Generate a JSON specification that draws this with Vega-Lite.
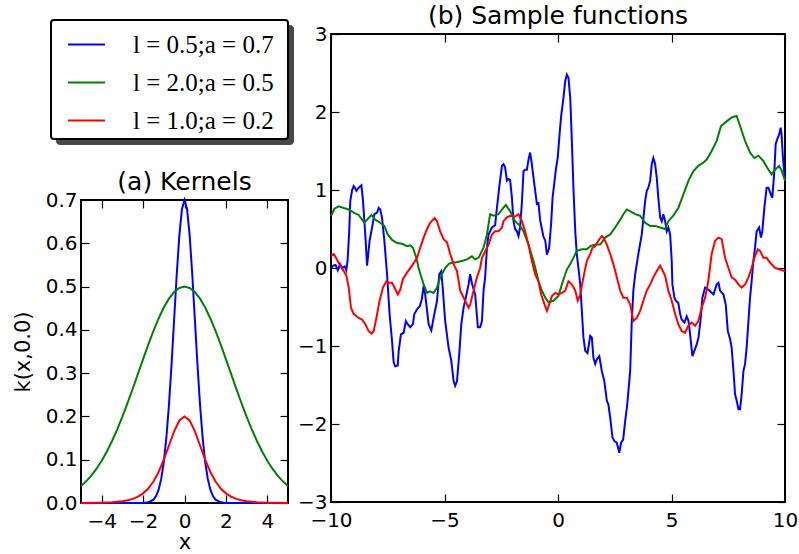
{
  "$schema": "https://vega.github.io/schema/vega-lite/v6.json",
  "padding": {"left": 11, "top": 3, "right": 1, "bottom": 5},
  "background": "white",
  "datasets": {
    "series": [
      {"k": "b", "label": "l = 0.5;a = 0.7"},
      {"k": "g", "label": "l = 2.0;a = 0.5"},
      {"k": "r", "label": "l = 1.0;a = 0.2"}
    ],
    "kernels": [
      {"k":"b","x":-5,"y":0},{"k":"b","x":-4,"y":0},{"k":"b","x":-3,"y":0},{"k":"b","x":-2.5,"y":0},{"k":"b","x":-2,"y":0.0002},{"k":"b","x":-1.75,"y":0.0015},{"k":"b","x":-1.5,"y":0.0078},{"k":"b","x":-1.375,"y":0.016},{"k":"b","x":-1.25,"y":0.0307},{"k":"b","x":-1.125,"y":0.0557},{"k":"b","x":-1,"y":0.0947},{"k":"b","x":-0.875,"y":0.1514},{"k":"b","x":-0.75,"y":0.2273},{"k":"b","x":-0.625,"y":0.3205},{"k":"b","x":-0.5,"y":0.4246},{"k":"b","x":-0.375,"y":0.5284},{"k":"b","x":-0.25,"y":0.6178},{"k":"b","x":-0.125,"y":0.6785},{"k":"b","x":0,"y":0.7},{"k":"b","x":0.125,"y":0.6785},{"k":"b","x":0.25,"y":0.6178},{"k":"b","x":0.375,"y":0.5284},{"k":"b","x":0.5,"y":0.4246},{"k":"b","x":0.625,"y":0.3205},{"k":"b","x":0.75,"y":0.2273},{"k":"b","x":0.875,"y":0.1514},{"k":"b","x":1,"y":0.0947},{"k":"b","x":1.125,"y":0.0557},{"k":"b","x":1.25,"y":0.0307},{"k":"b","x":1.375,"y":0.016},{"k":"b","x":1.5,"y":0.0078},{"k":"b","x":1.75,"y":0.0015},{"k":"b","x":2,"y":0.0002},{"k":"b","x":2.5,"y":0},{"k":"b","x":3,"y":0},{"k":"b","x":4,"y":0},{"k":"b","x":5,"y":0},
      {"k":"g","x":-5,"y":0.039},{"k":"g","x":-4.75,"y":0.05},{"k":"g","x":-4.5,"y":0.0633},{"k":"g","x":-4.25,"y":0.0792},{"k":"g","x":-4,"y":0.0977},{"k":"g","x":-3.75,"y":0.1191},{"k":"g","x":-3.5,"y":0.1433},{"k":"g","x":-3.25,"y":0.1702},{"k":"g","x":-3,"y":0.1996},{"k":"g","x":-2.75,"y":0.2311},{"k":"g","x":-2.5,"y":0.2642},{"k":"g","x":-2.25,"y":0.2983},{"k":"g","x":-2,"y":0.3325},{"k":"g","x":-1.75,"y":0.3658},{"k":"g","x":-1.5,"y":0.3975},{"k":"g","x":-1.25,"y":0.4263},{"k":"g","x":-1,"y":0.4515},{"k":"g","x":-0.75,"y":0.4721},{"k":"g","x":-0.5,"y":0.4874},{"k":"g","x":-0.25,"y":0.4968},{"k":"g","x":0,"y":0.5},{"k":"g","x":0.25,"y":0.4968},{"k":"g","x":0.5,"y":0.4874},{"k":"g","x":0.75,"y":0.4721},{"k":"g","x":1,"y":0.4515},{"k":"g","x":1.25,"y":0.4263},{"k":"g","x":1.5,"y":0.3975},{"k":"g","x":1.75,"y":0.3658},{"k":"g","x":2,"y":0.3325},{"k":"g","x":2.25,"y":0.2983},{"k":"g","x":2.5,"y":0.2642},{"k":"g","x":2.75,"y":0.2311},{"k":"g","x":3,"y":0.1996},{"k":"g","x":3.25,"y":0.1702},{"k":"g","x":3.5,"y":0.1433},{"k":"g","x":3.75,"y":0.1191},{"k":"g","x":4,"y":0.0977},{"k":"g","x":4.25,"y":0.0792},{"k":"g","x":4.5,"y":0.0633},{"k":"g","x":4.75,"y":0.05},{"k":"g","x":5,"y":0.039},
      {"k":"r","x":-5,"y":0.0001},{"k":"r","x":-4.5,"y":0.0003},{"k":"r","x":-4,"y":0.0007},{"k":"r","x":-3.5,"y":0.0017},{"k":"r","x":-3,"y":0.004},{"k":"r","x":-2.75,"y":0.0062},{"k":"r","x":-2.5,"y":0.0095},{"k":"r","x":-2.25,"y":0.0146},{"k":"r","x":-2,"y":0.0223},{"k":"r","x":-1.75,"y":0.0335},{"k":"r","x":-1.5,"y":0.0496},{"k":"r","x":-1.25,"y":0.0716},{"k":"r","x":-1,"y":0.1},{"k":"r","x":-0.75,"y":0.1329},{"k":"r","x":-0.5,"y":0.1657},{"k":"r","x":-0.25,"y":0.1906},{"k":"r","x":0,"y":0.2},{"k":"r","x":0.25,"y":0.1906},{"k":"r","x":0.5,"y":0.1657},{"k":"r","x":0.75,"y":0.1329},{"k":"r","x":1,"y":0.1},{"k":"r","x":1.25,"y":0.0716},{"k":"r","x":1.5,"y":0.0496},{"k":"r","x":1.75,"y":0.0335},{"k":"r","x":2,"y":0.0223},{"k":"r","x":2.25,"y":0.0146},{"k":"r","x":2.5,"y":0.0095},{"k":"r","x":2.75,"y":0.0062},{"k":"r","x":3,"y":0.004},{"k":"r","x":3.5,"y":0.0017},{"k":"r","x":4,"y":0.0007},{"k":"r","x":4.5,"y":0.0003},{"k":"r","x":5,"y":0.0001}
    ],
    "samples": [
      {"k":"b","x":-10,"y":0},{"k":"b","x":-9.9,"y":0.03},{"k":"b","x":-9.8,"y":0.04},{"k":"b","x":-9.7,"y":-0.03},{"k":"b","x":-9.6,"y":0.05},{"k":"b","x":-9.5,"y":0},{"k":"b","x":-9.4,"y":0.02},{"k":"b","x":-9.33,"y":-0.03},{"k":"b","x":-9.27,"y":0.09},{"k":"b","x":-9.2,"y":0.45},{"k":"b","x":-9.15,"y":0.86},{"k":"b","x":-9.07,"y":1.0},{"k":"b","x":-9.0,"y":1.05},{"k":"b","x":-8.93,"y":1.02},{"k":"b","x":-8.88,"y":0.99},{"k":"b","x":-8.78,"y":1.03},{"k":"b","x":-8.66,"y":1.06},{"k":"b","x":-8.59,"y":0.86},{"k":"b","x":-8.49,"y":0.43},{"k":"b","x":-8.41,"y":0.03},{"k":"b","x":-8.3,"y":0.35},{"k":"b","x":-8.19,"y":0.52},{"k":"b","x":-8.09,"y":0.69},{"k":"b","x":-7.97,"y":0.71},{"k":"b","x":-7.9,"y":0.77},{"k":"b","x":-7.83,"y":0.75},{"k":"b","x":-7.75,"y":0.64},{"k":"b","x":-7.65,"y":0.35},{"k":"b","x":-7.53,"y":-0.08},{"k":"b","x":-7.42,"y":-0.59},{"k":"b","x":-7.31,"y":-0.94},{"k":"b","x":-7.24,"y":-1.21},{"k":"b","x":-7.17,"y":-1.26},{"k":"b","x":-7.06,"y":-1.25},{"k":"b","x":-7.02,"y":-1.07},{"k":"b","x":-6.92,"y":-0.85},{"k":"b","x":-6.8,"y":-0.83},{"k":"b","x":-6.7,"y":-0.68},{"k":"b","x":-6.62,"y":-0.72},{"k":"b","x":-6.51,"y":-0.76},{"k":"b","x":-6.39,"y":-0.72},{"k":"b","x":-6.33,"y":-0.59},{"k":"b","x":-6.21,"y":-0.53},{"k":"b","x":-6.09,"y":-0.49},{"k":"b","x":-6.0,"y":-0.4},{"k":"b","x":-5.92,"y":-0.23},{"k":"b","x":-5.85,"y":-0.34},{"k":"b","x":-5.7,"y":-0.72},{"k":"b","x":-5.58,"y":-0.8},{"k":"b","x":-5.48,"y":-0.64},{"k":"b","x":-5.33,"y":-0.42},{"k":"b","x":-5.23,"y":-0.08},{"k":"b","x":-5.14,"y":-0.04},{"k":"b","x":-5.08,"y":-0.25},{"k":"b","x":-4.97,"y":-0.68},{"k":"b","x":-4.82,"y":-1.02},{"k":"b","x":-4.7,"y":-1.19},{"k":"b","x":-4.6,"y":-1.45},{"k":"b","x":-4.53,"y":-1.51},{"k":"b","x":-4.45,"y":-1.45},{"k":"b","x":-4.35,"y":-1.1},{"k":"b","x":-4.26,"y":-0.72},{"k":"b","x":-4.16,"y":-0.51},{"k":"b","x":-4.06,"y":-0.38},{"k":"b","x":-3.94,"y":-0.21},{"k":"b","x":-3.87,"y":-0.08},{"k":"b","x":-3.79,"y":-0.2},{"k":"b","x":-3.65,"y":-0.34},{"k":"b","x":-3.53,"y":-0.76},{"k":"b","x":-3.43,"y":-0.76},{"k":"b","x":-3.35,"y":-0.68},{"k":"b","x":-3.28,"y":-0.29},{"k":"b","x":-3.21,"y":-0.12},{"k":"b","x":-3.13,"y":0.26},{"k":"b","x":-3.06,"y":0.43},{"k":"b","x":-2.91,"y":0.52},{"k":"b","x":-2.77,"y":0.55},{"k":"b","x":-2.69,"y":0.77},{"k":"b","x":-2.59,"y":1.03},{"k":"b","x":-2.47,"y":1.31},{"k":"b","x":-2.4,"y":1.33},{"k":"b","x":-2.33,"y":1.29},{"k":"b","x":-2.25,"y":1.12},{"k":"b","x":-2.18,"y":1.14},{"k":"b","x":-2.11,"y":1.13},{"k":"b","x":-2.03,"y":0.9},{"k":"b","x":-1.96,"y":0.6},{"k":"b","x":-1.89,"y":0.5},{"k":"b","x":-1.81,"y":0.47},{"k":"b","x":-1.74,"y":0.41},{"k":"b","x":-1.67,"y":0.52},{"k":"b","x":-1.59,"y":0.84},{"k":"b","x":-1.52,"y":1.24},{"k":"b","x":-1.45,"y":1.26},{"k":"b","x":-1.37,"y":1.26},{"k":"b","x":-1.3,"y":1.39},{"k":"b","x":-1.23,"y":1.48},{"k":"b","x":-1.15,"y":1.33},{"k":"b","x":-1.08,"y":1.16},{"k":"b","x":-0.93,"y":0.82},{"k":"b","x":-0.86,"y":0.83},{"k":"b","x":-0.79,"y":0.62},{"k":"b","x":-0.71,"y":0.5},{"k":"b","x":-0.64,"y":0.4},{"k":"b","x":-0.56,"y":0.35},{"k":"b","x":-0.49,"y":0.17},{"k":"b","x":-0.39,"y":0.26},{"k":"b","x":-0.3,"y":0.58},{"k":"b","x":-0.24,"y":0.9},{"k":"b","x":-0.15,"y":1.12},{"k":"b","x":-0.1,"y":1.25},{"k":"b","x":-0.01,"y":1.42},{"k":"b","x":0.07,"y":1.72},{"k":"b","x":0.14,"y":1.95},{"k":"b","x":0.24,"y":2.18},{"k":"b","x":0.32,"y":2.4},{"k":"b","x":0.39,"y":2.48},{"k":"b","x":0.46,"y":2.44},{"k":"b","x":0.54,"y":2.18},{"k":"b","x":0.61,"y":1.63},{"k":"b","x":0.68,"y":1.03},{"k":"b","x":0.76,"y":0.47},{"k":"b","x":0.83,"y":0.17},{"k":"b","x":0.9,"y":0},{"k":"b","x":0.98,"y":-0.21},{"k":"b","x":1.05,"y":-0.55},{"k":"b","x":1.12,"y":-0.89},{"k":"b","x":1.2,"y":-1.06},{"k":"b","x":1.3,"y":-1.09},{"k":"b","x":1.42,"y":-0.87},{"k":"b","x":1.49,"y":-0.89},{"k":"b","x":1.56,"y":-1.15},{"k":"b","x":1.64,"y":-1.23},{"k":"b","x":1.71,"y":-1.17},{"k":"b","x":1.82,"y":-1.13},{"k":"b","x":1.93,"y":-1.32},{"k":"b","x":2.04,"y":-1.45},{"k":"b","x":2.15,"y":-1.7},{"k":"b","x":2.22,"y":-1.75},{"k":"b","x":2.3,"y":-1.92},{"k":"b","x":2.4,"y":-2.17},{"k":"b","x":2.48,"y":-2.22},{"k":"b","x":2.59,"y":-2.24},{"k":"b","x":2.7,"y":-2.37},{"k":"b","x":2.78,"y":-2.24},{"k":"b","x":2.87,"y":-2.2},{"k":"b","x":2.96,"y":-1.96},{"k":"b","x":3.05,"y":-1.75},{"k":"b","x":3.18,"y":-1.32},{"k":"b","x":3.25,"y":-0.68},{"k":"b","x":3.32,"y":-0.29},{"k":"b","x":3.4,"y":-0.08},{"k":"b","x":3.54,"y":0.18},{"k":"b","x":3.69,"y":0.43},{"k":"b","x":3.84,"y":0.86},{"k":"b","x":3.91,"y":0.99},{"k":"b","x":3.98,"y":1.03},{"k":"b","x":4.06,"y":1.12},{"k":"b","x":4.13,"y":1.33},{"k":"b","x":4.2,"y":1.41},{"k":"b","x":4.28,"y":1.33},{"k":"b","x":4.35,"y":1.16},{"k":"b","x":4.42,"y":0.9},{"k":"b","x":4.5,"y":0.65},{"k":"b","x":4.57,"y":0.6},{"k":"b","x":4.64,"y":0.69},{"k":"b","x":4.72,"y":0.6},{"k":"b","x":4.79,"y":0.47},{"k":"b","x":4.86,"y":0.52},{"k":"b","x":4.94,"y":0.43},{"k":"b","x":5.01,"y":0.09},{"k":"b","x":5.04,"y":-0.21},{"k":"b","x":5.13,"y":-0.38},{"k":"b","x":5.19,"y":-0.42},{"k":"b","x":5.3,"y":-0.45},{"k":"b","x":5.38,"y":-0.59},{"k":"b","x":5.45,"y":-0.66},{"k":"b","x":5.57,"y":-0.7},{"k":"b","x":5.67,"y":-0.62},{"k":"b","x":5.75,"y":-0.68},{"k":"b","x":5.82,"y":-0.85},{"k":"b","x":5.92,"y":-1.13},{"k":"b","x":6.01,"y":-1.06},{"k":"b","x":6.11,"y":-0.98},{"k":"b","x":6.19,"y":-0.89},{"k":"b","x":6.29,"y":-0.64},{"k":"b","x":6.36,"y":-0.38},{"k":"b","x":6.48,"y":-0.25},{"k":"b","x":6.63,"y":-0.28},{"k":"b","x":6.85,"y":-0.34},{"k":"b","x":6.99,"y":-0.21},{"k":"b","x":7.07,"y":-0.19},{"k":"b","x":7.14,"y":-0.29},{"k":"b","x":7.29,"y":-0.34},{"k":"b","x":7.39,"y":-0.47},{"k":"b","x":7.48,"y":-0.81},{"k":"b","x":7.58,"y":-0.91},{"k":"b","x":7.65,"y":-1.02},{"k":"b","x":7.73,"y":-1.32},{"k":"b","x":7.8,"y":-1.62},{"k":"b","x":7.87,"y":-1.7},{"k":"b","x":7.95,"y":-1.81},{"k":"b","x":8.02,"y":-1.81},{"k":"b","x":8.09,"y":-1.62},{"k":"b","x":8.17,"y":-1.32},{"k":"b","x":8.24,"y":-1.23},{"k":"b","x":8.31,"y":-1.02},{"k":"b","x":8.39,"y":-0.68},{"k":"b","x":8.46,"y":-0.38},{"k":"b","x":8.53,"y":-0.17},{"k":"b","x":8.61,"y":0.1},{"k":"b","x":8.68,"y":0.26},{"k":"b","x":8.75,"y":0.47},{"k":"b","x":8.86,"y":0.52},{"k":"b","x":8.94,"y":0.39},{"k":"b","x":9.0,"y":0.47},{"k":"b","x":9.09,"y":0.77},{"k":"b","x":9.19,"y":1.03},{"k":"b","x":9.27,"y":1.03},{"k":"b","x":9.38,"y":0.94},{"k":"b","x":9.44,"y":0.9},{"k":"b","x":9.53,"y":1.24},{"k":"b","x":9.59,"y":1.59},{"k":"b","x":9.68,"y":1.67},{"k":"b","x":9.74,"y":1.71},{"k":"b","x":9.81,"y":1.8},{"k":"b","x":9.85,"y":1.71},{"k":"b","x":9.91,"y":1.41},{"k":"b","x":10,"y":1.12},
      {"k":"g","x":-10,"y":0.67},{"k":"g","x":-9.96,"y":0.69},{"k":"g","x":-9.85,"y":0.76},{"k":"g","x":-9.66,"y":0.79},{"k":"g","x":-9.44,"y":0.77},{"k":"g","x":-9.22,"y":0.75},{"k":"g","x":-9.0,"y":0.71},{"k":"g","x":-8.78,"y":0.68},{"k":"g","x":-8.63,"y":0.62},{"k":"g","x":-8.53,"y":0.58},{"k":"g","x":-8.41,"y":0.62},{"k":"g","x":-8.22,"y":0.68},{"k":"g","x":-8.05,"y":0.62},{"k":"g","x":-7.83,"y":0.58},{"k":"g","x":-7.65,"y":0.54},{"k":"g","x":-7.5,"y":0.43},{"k":"g","x":-7.31,"y":0.36},{"k":"g","x":-7.09,"y":0.32},{"k":"g","x":-6.87,"y":0.31},{"k":"g","x":-6.65,"y":0.28},{"k":"g","x":-6.51,"y":0.29},{"k":"g","x":-6.39,"y":0.26},{"k":"g","x":-6.24,"y":0.13},{"k":"g","x":-6.14,"y":0},{"k":"g","x":-6.04,"y":-0.1},{"k":"g","x":-5.92,"y":-0.21},{"k":"g","x":-5.77,"y":-0.32},{"k":"g","x":-5.63,"y":-0.3},{"k":"g","x":-5.48,"y":-0.32},{"k":"g","x":-5.33,"y":-0.25},{"k":"g","x":-5.19,"y":-0.12},{"k":"g","x":-5.04,"y":-0.04},{"k":"g","x":-4.97,"y":0},{"k":"g","x":-4.82,"y":0.05},{"k":"g","x":-4.67,"y":0.07},{"k":"g","x":-4.53,"y":0.07},{"k":"g","x":-4.23,"y":0.09},{"k":"g","x":-4.01,"y":0.11},{"k":"g","x":-3.79,"y":0.15},{"k":"g","x":-3.65,"y":0.11},{"k":"g","x":-3.5,"y":0.13},{"k":"g","x":-3.28,"y":0.26},{"k":"g","x":-3.13,"y":0.43},{"k":"g","x":-2.99,"y":0.69},{"k":"g","x":-2.84,"y":0.67},{"k":"g","x":-2.62,"y":0.69},{"k":"g","x":-2.47,"y":0.75},{"k":"g","x":-2.3,"y":0.81},{"k":"g","x":-2.11,"y":0.73},{"k":"g","x":-1.89,"y":0.6},{"k":"g","x":-1.67,"y":0.54},{"k":"g","x":-1.52,"y":0.47},{"k":"g","x":-1.3,"y":0.3},{"k":"g","x":-1.08,"y":0.09},{"k":"g","x":-0.93,"y":-0.08},{"k":"g","x":-0.86,"y":-0.17},{"k":"g","x":-0.71,"y":-0.29},{"k":"g","x":-0.56,"y":-0.38},{"k":"g","x":-0.42,"y":-0.44},{"k":"g","x":-0.2,"y":-0.42},{"k":"g","x":0.02,"y":-0.36},{"k":"g","x":0.17,"y":-0.21},{"k":"g","x":0.32,"y":-0.08},{"k":"g","x":0.39,"y":-0.02},{"k":"g","x":0.54,"y":0.05},{"k":"g","x":0.68,"y":0.13},{"k":"g","x":0.83,"y":0.22},{"k":"g","x":1.05,"y":0.24},{"k":"g","x":1.27,"y":0.24},{"k":"g","x":1.42,"y":0.28},{"k":"g","x":1.64,"y":0.3},{"k":"g","x":1.86,"y":0.3},{"k":"g","x":2.08,"y":0.39},{"k":"g","x":2.3,"y":0.43},{"k":"g","x":2.52,"y":0.52},{"k":"g","x":2.74,"y":0.62},{"k":"g","x":2.88,"y":0.69},{"k":"g","x":3.03,"y":0.75},{"k":"g","x":3.18,"y":0.73},{"k":"g","x":3.4,"y":0.69},{"k":"g","x":3.62,"y":0.67},{"k":"g","x":3.84,"y":0.58},{"k":"g","x":4.06,"y":0.54},{"k":"g","x":4.28,"y":0.54},{"k":"g","x":4.5,"y":0.52},{"k":"g","x":4.72,"y":0.5},{"k":"g","x":4.86,"y":0.6},{"k":"g","x":5.08,"y":0.67},{"k":"g","x":5.3,"y":0.77},{"k":"g","x":5.52,"y":0.94},{"k":"g","x":5.75,"y":1.12},{"k":"g","x":5.96,"y":1.24},{"k":"g","x":6.18,"y":1.31},{"k":"g","x":6.4,"y":1.35},{"k":"g","x":6.55,"y":1.39},{"k":"g","x":6.77,"y":1.5},{"k":"g","x":6.99,"y":1.63},{"k":"g","x":7.18,"y":1.82},{"k":"g","x":7.43,"y":1.88},{"k":"g","x":7.65,"y":1.93},{"k":"g","x":7.87,"y":1.95},{"k":"g","x":8.02,"y":1.82},{"k":"g","x":8.24,"y":1.63},{"k":"g","x":8.46,"y":1.48},{"k":"g","x":8.65,"y":1.41},{"k":"g","x":8.83,"y":1.44},{"k":"g","x":9.05,"y":1.37},{"k":"g","x":9.27,"y":1.26},{"k":"g","x":9.41,"y":1.2},{"k":"g","x":9.56,"y":1.26},{"k":"g","x":9.74,"y":1.31},{"k":"g","x":9.85,"y":1.25},{"k":"g","x":10,"y":1.12},
      {"k":"r","x":-10,"y":0.15},{"k":"r","x":-9.88,"y":0.18},{"k":"r","x":-9.74,"y":0.11},{"k":"r","x":-9.59,"y":0.03},{"k":"r","x":-9.44,"y":-0.04},{"k":"r","x":-9.32,"y":-0.1},{"k":"r","x":-9.22,"y":-0.25},{"k":"r","x":-9.12,"y":-0.51},{"k":"r","x":-9.0,"y":-0.59},{"k":"r","x":-8.78,"y":-0.64},{"k":"r","x":-8.63,"y":-0.66},{"k":"r","x":-8.49,"y":-0.72},{"k":"r","x":-8.34,"y":-0.81},{"k":"r","x":-8.22,"y":-0.84},{"k":"r","x":-8.12,"y":-0.81},{"k":"r","x":-8.0,"y":-0.64},{"k":"r","x":-7.86,"y":-0.42},{"k":"r","x":-7.71,"y":-0.25},{"k":"r","x":-7.56,"y":-0.17},{"k":"r","x":-7.46,"y":-0.19},{"k":"r","x":-7.31,"y":-0.19},{"k":"r","x":-7.17,"y":-0.27},{"k":"r","x":-7.06,"y":-0.34},{"k":"r","x":-6.95,"y":-0.28},{"k":"r","x":-6.83,"y":-0.14},{"k":"r","x":-6.65,"y":-0.06},{"k":"r","x":-6.43,"y":0.03},{"k":"r","x":-6.21,"y":0.13},{"k":"r","x":-6.07,"y":0.26},{"k":"r","x":-5.92,"y":0.39},{"k":"r","x":-5.77,"y":0.5},{"k":"r","x":-5.63,"y":0.58},{"k":"r","x":-5.44,"y":0.64},{"k":"r","x":-5.33,"y":0.6},{"k":"r","x":-5.19,"y":0.47},{"k":"r","x":-5.04,"y":0.37},{"k":"r","x":-4.89,"y":0.33},{"k":"r","x":-4.75,"y":0.18},{"k":"r","x":-4.6,"y":0.05},{"k":"r","x":-4.45,"y":-0.04},{"k":"r","x":-4.31,"y":-0.29},{"k":"r","x":-4.09,"y":-0.42},{"k":"r","x":-3.94,"y":-0.51},{"k":"r","x":-3.87,"y":-0.47},{"k":"r","x":-3.72,"y":-0.29},{"k":"r","x":-3.57,"y":-0.12},{"k":"r","x":-3.43,"y":0},{"k":"r","x":-3.35,"y":0.13},{"k":"r","x":-3.06,"y":0.3},{"k":"r","x":-2.91,"y":0.43},{"k":"r","x":-2.77,"y":0.47},{"k":"r","x":-2.62,"y":0.47},{"k":"r","x":-2.47,"y":0.52},{"k":"r","x":-2.4,"y":0.6},{"k":"r","x":-2.25,"y":0.65},{"k":"r","x":-2.11,"y":0.67},{"k":"r","x":-1.89,"y":0.66},{"k":"r","x":-1.74,"y":0.69},{"k":"r","x":-1.59,"y":0.6},{"k":"r","x":-1.45,"y":0.47},{"k":"r","x":-1.3,"y":0.3},{"k":"r","x":-1.15,"y":0.09},{"k":"r","x":-1.01,"y":-0.08},{"k":"r","x":-0.86,"y":-0.17},{"k":"r","x":-0.74,"y":-0.34},{"k":"r","x":-0.59,"y":-0.47},{"k":"r","x":-0.49,"y":-0.55},{"k":"r","x":-0.39,"y":-0.47},{"k":"r","x":-0.27,"y":-0.36},{"k":"r","x":-0.12,"y":-0.32},{"k":"r","x":0.02,"y":-0.34},{"k":"r","x":0.17,"y":-0.32},{"k":"r","x":0.32,"y":-0.29},{"k":"r","x":0.46,"y":-0.17},{"k":"r","x":0.61,"y":-0.21},{"k":"r","x":0.76,"y":-0.29},{"k":"r","x":0.87,"y":-0.42},{"k":"r","x":0.98,"y":-0.34},{"k":"r","x":1.12,"y":-0.12},{"k":"r","x":1.27,"y":0.09},{"k":"r","x":1.42,"y":0.18},{"k":"r","x":1.52,"y":0.26},{"k":"r","x":1.64,"y":0.28},{"k":"r","x":1.78,"y":0.35},{"k":"r","x":1.93,"y":0.41},{"k":"r","x":2.0,"y":0.39},{"k":"r","x":2.15,"y":0.3},{"k":"r","x":2.3,"y":0.18},{"k":"r","x":2.44,"y":0.05},{"k":"r","x":2.52,"y":-0.04},{"k":"r","x":2.59,"y":-0.12},{"k":"r","x":2.74,"y":-0.29},{"k":"r","x":2.88,"y":-0.38},{"k":"r","x":3.03,"y":-0.38},{"k":"r","x":3.18,"y":-0.47},{"k":"r","x":3.32,"y":-0.68},{"k":"r","x":3.47,"y":-0.64},{"k":"r","x":3.62,"y":-0.55},{"k":"r","x":3.76,"y":-0.42},{"k":"r","x":3.91,"y":-0.29},{"k":"r","x":4.06,"y":-0.21},{"k":"r","x":4.2,"y":-0.12},{"k":"r","x":4.35,"y":-0.04},{"k":"r","x":4.5,"y":0.03},{"k":"r","x":4.72,"y":-0.1},{"k":"r","x":4.86,"y":-0.29},{"k":"r","x":5.01,"y":-0.42},{"k":"r","x":5.16,"y":-0.59},{"k":"r","x":5.3,"y":-0.72},{"k":"r","x":5.45,"y":-0.81},{"k":"r","x":5.6,"y":-0.83},{"k":"r","x":5.74,"y":-0.74},{"k":"r","x":5.89,"y":-0.7},{"k":"r","x":6.04,"y":-0.74},{"k":"r","x":6.18,"y":-0.68},{"k":"r","x":6.33,"y":-0.51},{"k":"r","x":6.48,"y":-0.38},{"k":"r","x":6.62,"y":-0.17},{"k":"r","x":6.77,"y":0.18},{"k":"r","x":6.92,"y":0.35},{"k":"r","x":7.07,"y":0.39},{"k":"r","x":7.21,"y":0.37},{"k":"r","x":7.36,"y":0.13},{"k":"r","x":7.51,"y":0},{"k":"r","x":7.65,"y":-0.12},{"k":"r","x":7.8,"y":-0.15},{"k":"r","x":7.95,"y":-0.21},{"k":"r","x":8.09,"y":-0.25},{"k":"r","x":8.24,"y":-0.21},{"k":"r","x":8.39,"y":-0.12},{"k":"r","x":8.53,"y":0},{"k":"r","x":8.65,"y":0.13},{"k":"r","x":8.8,"y":0.24},{"k":"r","x":8.9,"y":0.22},{"k":"r","x":9.05,"y":0.13},{"k":"r","x":9.19,"y":0.13},{"k":"r","x":9.34,"y":0.07},{"k":"r","x":9.56,"y":0},{"k":"r","x":9.78,"y":-0.02},{"k":"r","x":10,"y":-0.04}
    ]
  },
  "config": {
    "font": "DejaVu Sans",
    "view": {"stroke": "black", "strokeWidth": 2},
    "axis": {
      "domain": false, "grid": false, "ticks": true,
      "tickSize": -8, "tickWidth": 1.2, "tickColor": "black",
      "labelFont": "DejaVu Sans", "labelFontSize": 20, "labelColor": "black",
      "labelFlush": false, "labelOverlap": false,
      "titleFont": "DejaVu Sans", "titleFontSize": 21, "titleFontWeight": "normal", "titleColor": "black"
    },
    "axisX": {"labelPadding": 16, "titlePadding": 0},
    "axisY": {"labelPadding": 12, "titlePadding": 12},
    "title": {"font": "DejaVu Sans", "fontSize": 25, "fontWeight": "normal", "color": "black", "baseline": "alphabetic", "offset": -5},
    "legend": {
      "orient": "none", "legendX": -30, "legendY": -14,
      "titleOrient": "right", "titlePadding": 9, "titleFontSize": 2, "titleColor": "white",
      "symbolType": "stroke", "symbolSize": 1369, "symbolStrokeWidth": 2,
      "symbolOffset": 11, "labelOffset": 27, "padding": 5, "rowPadding": 5,
      "labelFont": "Liberation Serif", "labelFontSize": 25, "labelColor": "black", "labelLimit": 300,
      "fillColor": "white", "strokeColor": "black", "cornerRadius": 3
    }
  },
  "hconcat": [
    {
      "spacing": 0,
      "vconcat": [
        {
          "width": 10, "height": 135,
          "view": {"stroke": null},
          "data": {"name": "series"},
          "mark": {"type": "point", "opacity": 0},
          "encoding": {
            "color": {
              "field": "label", "type": "nominal",
              "scale": {"range": ["#474747", "#474747", "#474747"]},
              "legend": {"title": " ", "titleColor": "#474747", "legendX": -25, "legendY": -9, "fillColor": "#474747", "strokeColor": "#474747", "symbolOpacity": 0, "labelOpacity": 0}
            }
          }
        },
        {
          "width": 207, "height": 303,
          "title": {"text": "(a) Kernels"},
          "data": {"name": "kernels"},
          "transform": [{"lookup": "k", "from": {"data": {"name": "series"}, "key": "k", "fields": ["label"]}}],
          "layer": [
            {
              "mark": {"type": "line", "strokeWidth": 2},
              "encoding": {
                "x": {"field": "x", "type": "quantitative", "scale": {"domain": [-5, 5], "nice": false, "zero": false}, "axis": {"orient": "bottom", "values": [-4, -2, 0, 2, 4], "title": "x"}},
                "y": {"field": "y", "type": "quantitative", "scale": {"domain": [0, 0.7], "nice": false}, "axis": {"orient": "left", "values": [0, 0.1, 0.2, 0.3, 0.4, 0.5, 0.6, 0.7], "format": ".1f", "title": "k(x,0.0)"}},
                "stroke": {
                  "field": "label", "type": "nominal",
                  "scale": {"domain": ["l = 0.5;a = 0.7", "l = 2.0;a = 0.5", "l = 1.0;a = 0.2"], "range": ["#0000ff", "#008000", "#ff0000"]},
                  "legend": {"title": " ", "encode": {"legend": {"update": {"strokeWidth": {"value": 2}}}}}
                }
              }
            },
            {
              "mark": {"type": "point", "opacity": 0},
              "encoding": {
                "x": {"field": "x", "type": "quantitative", "axis": {"orient": "top", "values": [-4, -2, 0, 2, 4], "labels": false, "title": null, "minExtent": 0, "maxExtent": 0}},
                "y": {"field": "y", "type": "quantitative", "axis": {"orient": "right", "values": [0, 0.1, 0.2, 0.3, 0.4, 0.5, 0.6, 0.7], "labels": false, "title": null, "minExtent": 0, "maxExtent": 0}}
              }
            }
          ]
        }
      ]
    },
    {
      "width": 454, "height": 468,
      "title": {"text": "(b) Sample functions"},
      "data": {"name": "samples"},
      "transform": [{"lookup": "k", "from": {"data": {"name": "series"}, "key": "k", "fields": ["label"]}}],
      "layer": [
        {
          "mark": {"type": "line", "strokeWidth": 2},
          "encoding": {
            "x": {"field": "x", "type": "quantitative", "scale": {"domain": [-10, 10], "nice": false, "zero": false}, "axis": {"orient": "bottom", "values": [-10, -5, 0, 5, 10], "title": null}},
            "y": {"field": "y", "type": "quantitative", "scale": {"domain": [-3, 3], "nice": false}, "axis": {"orient": "left", "values": [-3, -2, -1, 0, 1, 2, 3], "title": null}},
            "stroke": {
              "field": "label", "type": "nominal",
              "scale": {"domain": ["l = 0.5;a = 0.7", "l = 2.0;a = 0.5", "l = 1.0;a = 0.2"], "range": ["#0000ff", "#008000", "#ff0000"]},
              "legend": {"title": " ", "encode": {"legend": {"update": {"strokeWidth": {"value": 2}}}}}
            }
          }
        },
        {
          "mark": {"type": "point", "opacity": 0},
          "encoding": {
            "x": {"field": "x", "type": "quantitative", "axis": {"orient": "top", "values": [-10, -5, 0, 5, 10], "labels": false, "title": null, "minExtent": 0, "maxExtent": 0}},
            "y": {"field": "y", "type": "quantitative", "axis": {"orient": "right", "values": [-3, -2, -1, 0, 1, 2, 3], "labels": false, "title": null, "minExtent": 0, "maxExtent": 0}}
          }
        }
      ]
    }
  ],
  "spacing": 3
}
